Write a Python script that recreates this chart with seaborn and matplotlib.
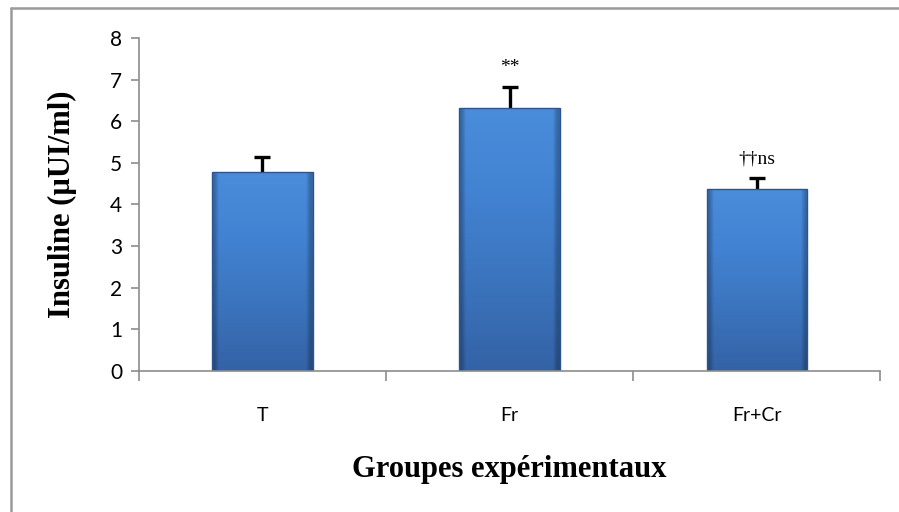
import numpy as np
import pandas as pd
import matplotlib
matplotlib.use("Agg")
import matplotlib.pyplot as plt
from matplotlib.lines import Line2D
from matplotlib.colors import LinearSegmentedColormap
import seaborn as sns

# values
groups = ["T", "Fr", "Fr+Cr"]
insulin = [4.77, 6.33, 4.37]
sem = [0.37, 0.50, 0.27]
marks = ["", "**", "\u2020\u2020ns"]

df = pd.DataFrame({"groupe": groups, "insuline": insulin})

sns.set_style("white")
plt.rcParams["font.family"] = ["Lato", "DejaVu Sans"]
plt.rcParams["text.color"] = "black"
plt.rcParams["axes.labelcolor"] = "black"
plt.rcParams["xtick.color"] = "black"
plt.rcParams["ytick.color"] = "black"

fig = plt.figure(figsize=(8.99, 5.12), dpi=100)
ax = fig.add_axes([0.1546, 0.2754, 0.8243, 0.6504])

sns.barplot(data=df, x="groupe", y="insuline", width=0.405,
            color="#3F7FCC", edgecolor="#2B558F", linewidth=1.0,
            saturation=1, ax=ax, zorder=2)

# soft gradient fill to imitate the bevelled office-style bars
cmap = LinearSegmentedColormap.from_list("bar", ["#3462A6", "#3B74BD", "#4282D2", "#4A8DDB"])
grad = np.linspace(0, 1, 256).reshape(-1, 1)
side = np.linspace(-1, 1, 64)
shade = 1 - 0.25 * np.clip(np.abs(side) * 12 - 10.5, 0, 1)
for p in list(ax.patches):
    x0, y0 = p.get_x(), p.get_y()
    w, h = p.get_width(), p.get_height()
    rgb = cmap(grad)[:, :, :3] * shade[None, :, None]
    im = ax.imshow(rgb, extent=[x0, x0 + w, y0, y0 + h], origin="lower",
                   aspect="auto", zorder=2.1, interpolation="bilinear")
    im.set_clip_path(p)
    p.set_facecolor("none")
    p.set_zorder(2.2)

x = np.arange(len(groups))
_, caps, _ = ax.errorbar(x, insulin, yerr=[np.zeros(len(sem)), sem], fmt="none",
                         ecolor="black", elinewidth=2.4, capsize=6, capthick=2.4, zorder=1)
caps[0].set_visible(False)  # only the upper cap is drawn

for xi, v, e, m in zip(x, insulin, sem, marks):
    if m:
        ax.text(xi, v + e + 0.26, m, ha="center", va="bottom",
                family="Liberation Serif", fontsize=14)

ax.set_ylim(0, 8)
ax.set_xlim(-0.5, 2.5)
ax.set_yticks(range(0, 9))
ax.set_xticks([-0.5, 0.5, 1.5, 2.5])
ax.set_xticklabels([])
ax.set_xticks(x, minor=True)
ax.set_xticklabels(groups, minor=True, fontsize=14)
ax.tick_params(axis="x", which="major", bottom=True, length=7, width=1.2,
               color="#8C8C8C", direction="out")
ax.tick_params(axis="x", which="minor", bottom=True, length=0, pad=26)
ax.tick_params(axis="y", left=True, length=6, width=1.2, color="#8C8C8C",
               direction="out", labelsize=15, pad=6)

for s in ["top", "right"]:
    ax.spines[s].set_visible(False)
for s in ["left", "bottom"]:
    ax.spines[s].set_color("#8C8C8C")
    ax.spines[s].set_linewidth(1.2)

ax.set_ylabel("Insuline (\u00b5UI/ml)", family="Liberation Serif", fontweight="bold",
              fontsize=22, labelpad=24)
ax.set_xlabel("Groupes exp\u00e9rimentaux", family="Liberation Serif", fontweight="bold",
              fontsize=22, labelpad=22)

# outer chart frame (cropped at right and bottom)
fig.add_artist(Line2D([11 / 899, 11 / 899], [0, 1 - 8 / 512], color="#9A9A9A", lw=1.8))
fig.add_artist(Line2D([11 / 899, 1], [1 - 8 / 512, 1 - 8 / 512], color="#9A9A9A", lw=1.8))

fig.savefig("out.png", dpi=100)
